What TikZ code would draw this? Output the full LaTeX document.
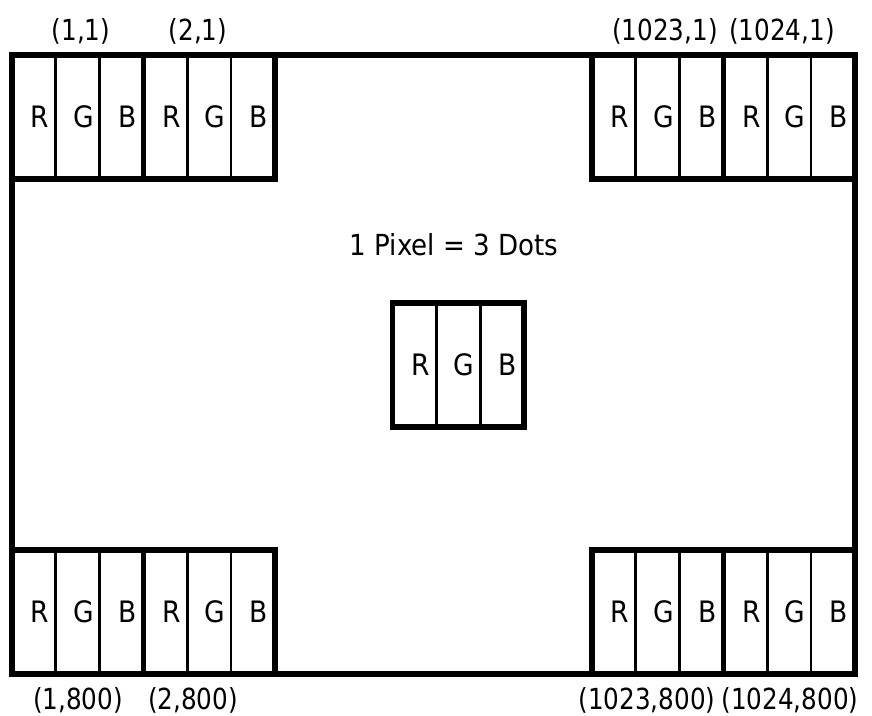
\documentclass[tikz,border=0pt]{standalone}
\usepackage{fontspec}
\setmainfont{DejaVu Sans}[FakeStretch=0.9]
\newfontfamily\labelfont{DejaVu Sans}[FakeStretch=0.85]
\newcommand\rgbpixel[3]{%
  \node[dotcell] (#1r) at (#2,#3) {\hspace*{12pt}R};
  \node[dotcell] (#1g) at (#2+43.8,#3) {\hspace*{12pt}G};
  \node[dotcell] (#1b) at (#2+87.6,#3) {\hspace*{12pt}B};
  \draw[pixframe] (#1r.north west) rectangle (#1b.south east);
}
\begin{document}
\begin{tikzpicture}[x=1pt,y=-1pt,
  dotcell/.style={draw, line width=2.8pt, minimum width=43.8pt, minimum height=124pt,
    inner sep=0pt, outer sep=0pt, anchor=north west, font=\fontsize{29.5}{33}\selectfont},
  pixframe/.style={draw, line width=5.5pt},
  captiontext/.style={font=\fontsize{29}{33}\selectfont, inner sep=0pt},
  coordlabel/.style={font=\labelfont\fontsize{29}{33}\selectfont, inner sep=0pt},
  frameline/.style={line width=5.5pt}]
\useasboundingbox (0,0) rectangle (872,715);
% outer frame
\coordinate (ftl) at (12,55);
\coordinate (fbr) at (855,674);
\draw[frameline] (ftl) rectangle (fbr);
% corner pixels
\rgbpixel{tla}{12}{55}
\rgbpixel{tlb}{143.4}{55}
\rgbpixel{tra}{592}{55}
\rgbpixel{trb}{723.4}{55}
\rgbpixel{bla}{12}{550}
\rgbpixel{blb}{143.4}{550}
\rgbpixel{bra}{592}{550}
\rgbpixel{brb}{723.4}{550}
% centre pixel
\rgbpixel{ctr}{392.5}{303}
\node[captiontext] (caption) at (454,245) {1 Pixel = 3 Dots};
% labels
\node[coordlabel] (l11) at (81,31) {(1,1)};
\node[coordlabel] (l21) at (198,31) {(2,1)};
\node[coordlabel] (l10231) at (665,31) {(1023,1)};
\node[coordlabel] (l10241) at (782,31) {(1024,1)};
\node[coordlabel] (l1800) at (78,700) {(1,800)};
\node[coordlabel] (l2800) at (193,700) {(2,800)};
\node[coordlabel] (l1023800) at (647,700) {(1023,800)};
\node[coordlabel] (l1024800) at (790,700) {(1024,800)};
\end{tikzpicture}
\end{document}
